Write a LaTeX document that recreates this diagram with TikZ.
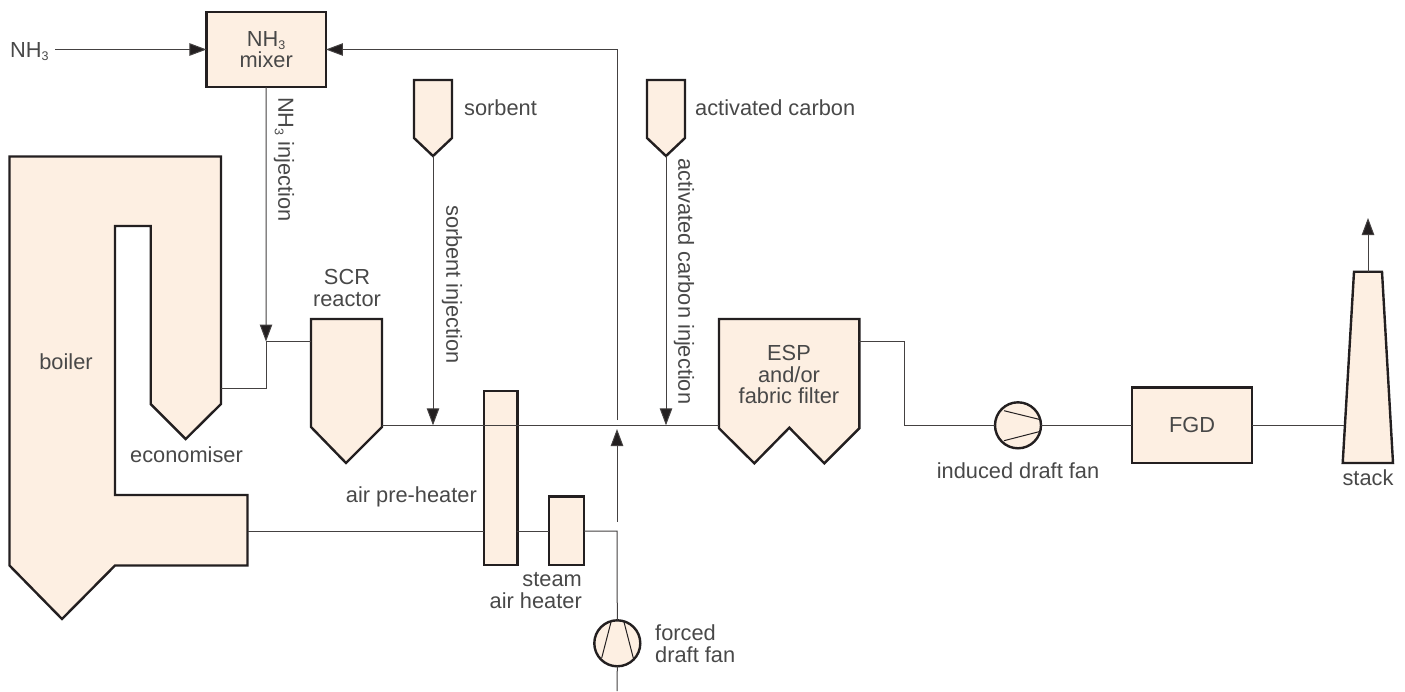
\documentclass[tikz,border=0pt]{standalone}
\usepackage{fontspec}
\setmainfont{Liberation Sans}
\usepackage{tikz}
\usetikzlibrary{arrows.meta}
\definecolor{unitfill}{HTML}{FDEFE2}
\definecolor{unitline}{HTML}{231F20}
\definecolor{labeltext}{HTML}{484848}
\newcommand{\nhthree}{NH\raisebox{-3.5pt}{\fontsize{12.5}{12.5}\selectfont 3}}
\tikzset{
	unit/.style={draw=unitline, fill=unitfill, line width=2.4pt, line join=miter},
	box/.style={unit, rectangle, inner sep=0pt, outer sep=0pt, align=center, text=labeltext, font=\mylabel},
	lab/.style={text=labeltext, font=\mylabel, inner sep=0pt, align=center},
	flow/.style={draw=unitline!85, line width=1pt},
	to/.style={flow, -{Triangle[length=17pt, width=12.5pt, fill=unitline]}}
}
\newcommand{\mylabel}{\fontsize{21.8}{21.3}\selectfont}

\begin{document}
\begin{tikzpicture}[
				x=1pt, y=-1pt,
				fan/.style={unit, circle, minimum size=46pt, inner sep=0pt, outer sep=0pt},
				blade/.style={draw=unitline, line width=1pt}
				]
				\useasboundingbox (0,0) rectangle (1405,691);
				
				% ducts behind the units
				\coordinate (fgdin) at (617,531);
				\coordinate (blr) at (247.5,531);
				\coordinate (ecoout) at (221,388.7);
				\coordinate (ecotee) at (266,388.7);
				\coordinate (scrtee) at (266,341.5);
				\coordinate (scrin) at (311,341.5);
				\coordinate (scrout) at (382,425.3);
				\coordinate (espin) at (719,425.3);
				\coordinate (espout) at (859.3,341);
				\coordinate (espbend) at (904.3,341);
				\coordinate (espdown) at (904.3,425.3);
				\coordinate (sorbtee) at (433,425.3);
				\coordinate (carbtee) at (666,425.3);
				\coordinate (sorbtip) at (433,156);
				\coordinate (carbtip) at (666,156);
				\coordinate (stacktop) at (1368,271.7);
				\coordinate (stackair) at (1368,218);
				\coordinate (stackin) at (1343.5,425.3);
				\coordinate (fdtop) at (617,420);
				\coordinate (fdbend) at (617,49.5);
				\coordinate (fdgap) at (617,521.5);
				\coordinate (fdhead) at (617,429);
				\coordinate (fdfoot) at (617,691);
				\coordinate (nhin) at (55,49.5);
				
				% boiler and economiser
				\draw[unit] (9.5,156.5) -- (221,156.5) -- (221,404) -- (185.7,439) -- (150.7,404) -- (150.7,226) -- (115,226) -- (115,495) -- (247.5,495) -- (247.5,565.5) -- (115,565.5) -- (62,619) -- (9.5,565.5) -- cycle;
				% SCR, hoppers, ESP, stack
				\draw[unit] (311,319) -- (382,319) -- (382,427) -- (346,463) -- (311,427) -- cycle;
				\draw[unit] (414,80) -- (452,80) -- (452,138) -- (433,156) -- (414,138) -- cycle;
				\draw[unit] (647,80) -- (685,80) -- (685,138) -- (666,156) -- (647,138) -- cycle;
				\draw[unit] (719,319) -- (859.3,319) -- (859.3,428.3) -- (824.3,463.3) -- (789.3,427.7) -- (754.3,463.3) -- (719,428.3) -- cycle;
				\draw[unit] (1354,271.7) -- (1382,271.7) -- (1393,463) -- (1342.7,463) -- cycle;
				
				\node[box, minimum width=119.5pt, minimum height=75pt] (mixer) at (266.2,49.5) {\nhthree\\mixer};
				\node[box, minimum width=33.6pt, minimum height=174pt] (aph) at (500.5,478) {};
				\node[box, minimum width=34.7pt, minimum height=68.7pt] (sah) at (566.6,530.7) {};
				\node[box, minimum width=120pt, minimum height=75.3pt] (fgd) at (1192,425.3) {FGD};
				\node[fan] (idfan) at (1018,425.3) {};
				\node[fan] (fdfan) at (617.3,643.3) {};
				
				\draw[blade] (1004,410.7) -- (1039,419.3);
				\draw[blade] (1004,440.7) -- (1039,431.7);
				\draw[blade] (611,622) -- (601.7,658);
				\draw[blade] (624,622) -- (633.3,658);
				
				% flows
				\draw[to] (nhin) -- (mixer.west);
				\draw[to] (fdtop) -- (fdbend) -- (mixer.east);
				\draw[to] (mixer.south) -- (scrtee);
				\draw[flow] (ecoout) -- (ecotee) -- (scrtee) -- (scrin);
				\draw[flow] (scrout) -- (espin);
				\draw[to] (sorbtip) -- (sorbtee);
				\draw[to] (carbtip) -- (carbtee);
				\draw[flow] (blr) -- (aph.west |- blr);
				\draw[flow] (aph.east |- blr) -- (sah.west |- blr);
				\draw[flow] (sah.east |- blr) -- (fgdin) -- (fdfan.north);
				\draw[flow] (fdfan.south) -- (fdfoot);
				\draw[to] (fdgap) -- (fdhead);
				\draw[flow] (espout) -- (espbend) -- (espdown) -- (idfan.west);
				\draw[flow] (idfan.east) -- (fgd.west);
				\draw[flow] (fgd.east) -- (stackin);
				\draw[to] (stacktop) -- (stackair);
				
				% labels
				\node[lab, anchor=base west] (nhlab) at (10,57) {\nhthree};
				\node[lab, anchor=west, rotate=-90] (nhinj) at (284,97) {\nhthree{} injection};
				\node[lab, anchor=base] (scrlab) at (347,306) {SCR\\reactor};
				\node[lab, anchor=base west] (sorblab) at (464,115) {sorbent};
				\node[lab, anchor=base west] (carblab) at (695,115) {activated carbon};
				\node[lab, anchor=west, rotate=-90] (sorbinj) at (452,205) {sorbent injection};
				\node[lab, anchor=west, rotate=-90] (carbinj) at (684,158) {activated carbon injection};
				\node[lab, anchor=base] (blrlab) at (66,369) {boiler};
				\node[lab, anchor=base] (ecolab) at (186.5,462) {economiser};
				\node[lab, anchor=base east] (aphlab) at (477,502) {air pre-heater};
				\node[lab, anchor=base east, align=right] (sahlab) at (582,608) {steam\\air heater};
				\node[lab, anchor=base west, align=left] (fdlab) at (655,662) {forced\\draft fan};
				\node[lab, anchor=base] (idlab) at (1018,478) {induced draft fan};
				\node[lab, anchor=base] (stacklab) at (1368,485) {stack};
				\node[lab, anchor=base] (esplab) at (789,403.3) {ESP\\and/or\\fabric filter};
				
			\end{tikzpicture}
\end{document}
